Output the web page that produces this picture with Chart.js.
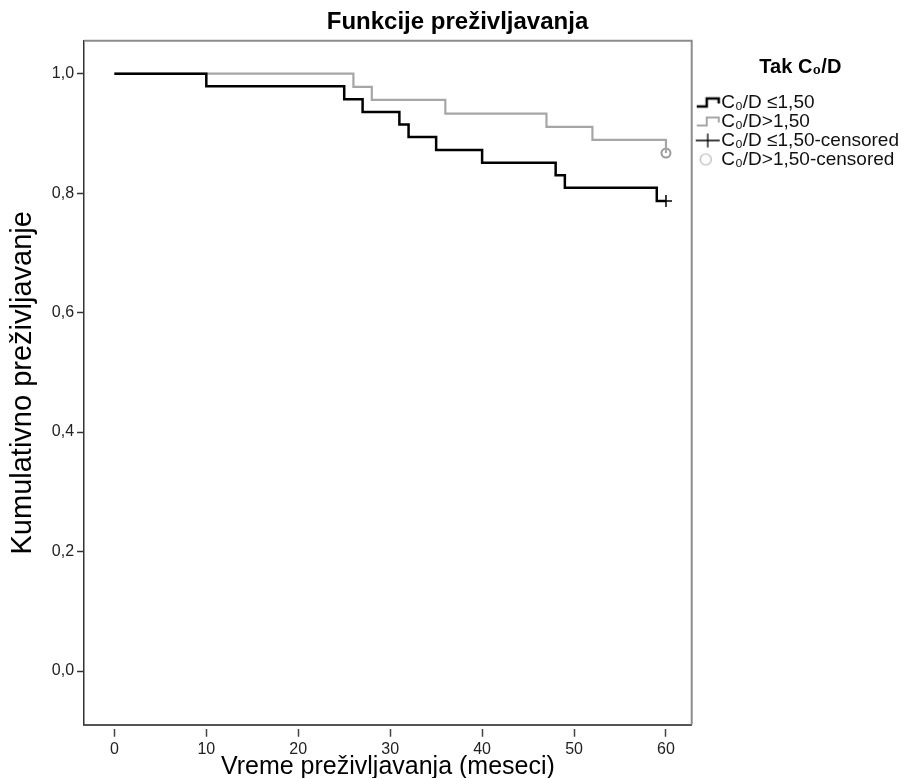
<!DOCTYPE html>
<html>
<head>
<meta charset="utf-8">
<script src="https://cdn.jsdelivr.net/npm/chart.js@4.4.1/dist/chart.umd.min.js"></script>
<style>
  html, body { margin: 0; padding: 0; background: #fff; }
  #wrap { width: 915px; height: 778px; }
</style>
</head>
<body>
<div id="wrap"><canvas id="kmChart"></canvas></div>
<script>
// Kaplan-Meier krive, procitane sa slike
const lowTimes = [0, 10, 25, 27, 31, 32, 35, 40, 48, 49, 59, 60];
const lowSurvival = [1, 0.979, 0.957, 0.936, 0.915, 0.894, 0.872, 0.851, 0.830, 0.809, 0.787, 0.787];
const highTimes = [0, 26, 28, 36, 47, 52, 60];
const highSurvival = [1, 0.978, 0.956, 0.933, 0.911, 0.889, 0.867];
const lowCensoredTimes = [60];
const lowCensoredSurvival = [0.787];
const highCensoredTimes = [60];
const highCensoredSurvival = [0.867];

const xTicks = [0, 10, 20, 30, 40, 50, 60];
const yTicks = [0, 0.2, 0.4, 0.6, 0.8, 1.0];
const seriesLabels = ["C₀/D ≤1,50", "C₀/D>1,50", "C₀/D ≤1,50-censored", "C₀/D>1,50-censored"];

const FONT = "'Liberation Sans', Arial, sans-serif";

function toPoints(xs, ys) {
  return xs.map((t, i) => ({ x: t, y: ys[i] }));
}

// ikonice za legendu (crtaju se desno u platnu od 40px)
function makeIcon(draw) {
  const c = document.createElement("canvas");
  c.width = 40;
  c.height = 16;
  draw(c.getContext("2d"));
  return c;
}

function stepIcon(color, width) {
  return makeIcon(g => {
    g.strokeStyle = color;
    g.lineWidth = width;
    g.beginPath();
    g.moveTo(15, 12);
    g.lineTo(25, 12);
    g.lineTo(25, 4);
    g.lineTo(37, 4);
    g.lineTo(37, 9);
    g.stroke();
  });
}

const legendIcons = [
  stepIcon("#000000", 2.5),
  stepIcon("#a6a6a6", 2),
  makeIcon(g => {
    g.strokeStyle = "#000";
    g.lineWidth = 1.3;
    g.beginPath();
    g.moveTo(14, 8); g.lineTo(38, 8);
    g.moveTo(26, 1); g.lineTo(26, 15);
    g.stroke();
  }),
  makeIcon(g => {
    g.strokeStyle = "#b3b3b3";
    g.lineWidth = 1.2;
    g.beginPath();
    g.arc(24, 8, 5.5, 0, Math.PI * 2);
    g.stroke();
  })
];

const framePlugin = {
  id: "frame",
  afterDatasetsDraw(chart) {
    const { ctx, chartArea: a } = chart;
    ctx.save();
    ctx.strokeStyle = "#8c8c8c";
    ctx.lineWidth = 2;
    ctx.beginPath();
    ctx.moveTo(a.left, a.top);
    ctx.lineTo(a.right, a.top);
    ctx.lineTo(a.right, a.bottom);
    ctx.stroke();
    ctx.restore();
  }
};

const ctx = document.getElementById("kmChart").getContext("2d");

new Chart(ctx, {
  type: "line",
  data: {
    datasets: [
      {
        label: seriesLabels[0],
        data: toPoints(lowTimes, lowSurvival),
        borderColor: "#000000",
        borderWidth: 2.5,
        stepped: true,
        pointRadius: 0,
        fill: false
      },
      {
        label: seriesLabels[1],
        data: toPoints(highTimes, highSurvival),
        borderColor: "#a6a6a6",
        borderWidth: 2.2,
        stepped: true,
        pointRadius: 0,
        fill: false
      },
      {
        label: seriesLabels[2],
        data: toPoints(lowCensoredTimes, lowCensoredSurvival),
        showLine: false,
        pointStyle: "cross",
        pointRadius: 6,
        borderColor: "#000000",
        borderWidth: 1.5
      },
      {
        label: seriesLabels[3],
        data: toPoints(highCensoredTimes, highCensoredSurvival),
        showLine: false,
        pointStyle: "circle",
        pointRadius: 4.5,
        borderColor: "#9a9a9a",
        backgroundColor: "transparent",
        borderWidth: 2
      }
    ]
  },
  options: {
    responsive: true,
    maintainAspectRatio: false,
    animation: false,
    layout: {
      padding: { left: 6, right: 6, top: 0, bottom: 1 }
    },
    plugins: {
      title: {
        display: true,
        text: "Funkcije preživljavanja",
        color: "#000",
        font: { family: FONT, size: 24 },
        padding: { top: 8, bottom: 4 }
      },
      legend: {
        position: "right",
        align: "start",
        title: {
          display: true,
          text: "Tak C₀/D",
          color: "#000",
          font: { family: FONT, size: 20, weight: "bold" },
          padding: { top: 57, bottom: 12 }
        },
        labels: {
          usePointStyle: true,
          pointStyleWidth: 20,
          color: "#111",
          padding: 0,
          font: { family: FONT, size: 19 },
          generateLabels(chart) {
            const items = Chart.defaults.plugins.legend.labels.generateLabels(chart);
            items.forEach((it, i) => { it.pointStyle = legendIcons[i]; });
            return items;
          }
        }
      },
      tooltip: { enabled: false }
    },
    scales: {
      x: {
        type: "linear",
        min: -3.3,
        max: 62.8,
        afterBuildTicks(scale) {
          scale.ticks = xTicks.map(v => ({ value: v }));
        },
        ticks: {
          color: "#222",
          padding: 3,
          font: { family: FONT, size: 16 }
        },
        border: { color: "#555", width: 2 },
        grid: {
          drawOnChartArea: false,
          tickLength: 12,
          tickColor: "#444",
          tickWidth: 1.5,
          tickBorderDash: [0, 3, 9, 40]
        },
        title: {
          display: true,
          text: "Vreme preživljavanja (meseci)",
          color: "#000",
          font: { family: FONT, size: 25, lineHeight: 0.8 },
          padding: { top: -5, bottom: 0 }
        }
      },
      y: {
        min: -0.09,
        max: 1.055,
        afterBuildTicks(scale) {
          scale.ticks = yTicks.map(v => ({ value: v }));
        },
        ticks: {
          color: "#222",
          padding: 3,
          font: { family: FONT, size: 16 },
          callback: v => v.toFixed(1).replace(".", ",")
        },
        border: { color: "#333", width: 1.5 },
        grid: {
          drawOnChartArea: false,
          tickLength: 7,
          tickColor: "#333",
          tickWidth: 1.5
        },
        title: {
          display: true,
          text: "Kumulativno preživljavanje",
          color: "#000",
          font: { family: FONT, size: 29 },
          padding: { top: 0, bottom: 8 }
        }
      }
    }
  },
  plugins: [framePlugin]
});
</script>
</body>
</html>
